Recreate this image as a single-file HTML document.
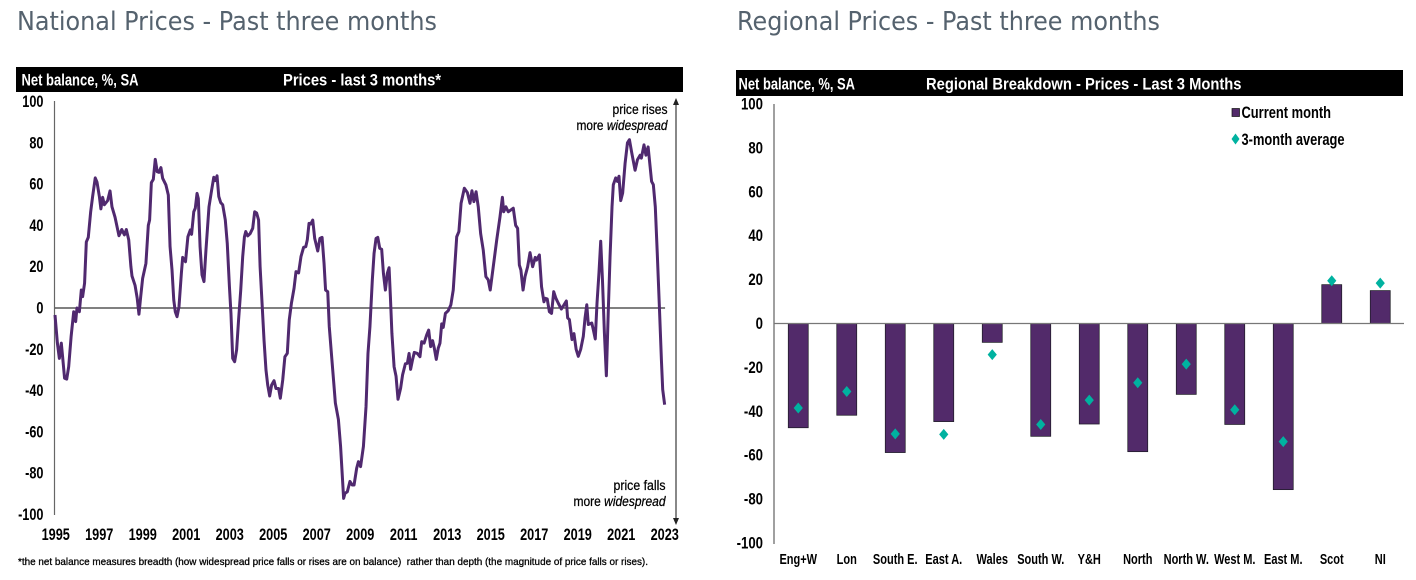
<!DOCTYPE html>
<html lang="en">
<head>
<meta charset="utf-8">
<title>National and Regional Prices</title>
<style>
html,body{margin:0;padding:0;background:#fff;width:1416px;height:580px;overflow:hidden}
svg{display:block}
text{font-family:"Liberation Sans",Arial,sans-serif}
.title{font-family:"DejaVu Sans","Liberation Sans",sans-serif;font-size:26px;fill:#55626e;font-weight:normal}
.band{font-size:17px;font-weight:bold;fill:#fff}
.tick{font-size:16.5px;font-weight:bold;fill:#000}
.note{font-size:13.5px;fill:#000;stroke:#000;stroke-width:.25}
.cat{font-size:14.5px;font-weight:bold;fill:#000}
.legend{font-size:16.5px;font-weight:bold;fill:#000}
</style>
</head>
<body>
<svg id="page" width="1416" height="580" viewBox="0 0 1416 580" xmlns="http://www.w3.org/2000/svg">
  <rect x="0" y="0" width="1416" height="580" fill="#fff"/>

  <text class="title" x="17" y="30" textLength="420" lengthAdjust="spacingAndGlyphs">National Prices - Past three months</text>
  <text class="title" x="737" y="30" textLength="423" lengthAdjust="spacingAndGlyphs">Regional Prices - Past three months</text>

  <g id="left-chart">
    <rect x="16" y="67" width="667" height="25" fill="#000"/>
    <text class="band" x="21.5" y="85.5" textLength="117" lengthAdjust="spacingAndGlyphs">Net balance, %, SA</text>
    <text class="band" x="283" y="85.5" textLength="158" lengthAdjust="spacingAndGlyphs">Prices - last 3 months*</text>
    <line x1="54.5" y1="101" x2="54.5" y2="515" stroke="#666" stroke-width="1.2"/>
    <line x1="676" y1="102" x2="676" y2="520" stroke="#555" stroke-width="1.4"/>
    <polygon points="676,98 673,105 679,105" fill="#222"/>
    <polygon points="676,525 673,518 679,518" fill="#222"/>
    <text class="note" x="667.5" y="114" text-anchor="end" textLength="55" lengthAdjust="spacingAndGlyphs">price rises</text>
    <text class="note" x="667.5" y="130" text-anchor="end" textLength="91" lengthAdjust="spacingAndGlyphs">more <tspan font-style="italic">widespread</tspan></text>
    <text class="note" x="665.5" y="490" text-anchor="end" textLength="52" lengthAdjust="spacingAndGlyphs">price falls</text>
    <text class="note" x="665.5" y="506" text-anchor="end" textLength="92" lengthAdjust="spacingAndGlyphs">more <tspan font-style="italic">widespread</tspan></text>
    <text x="18" y="565" font-size="10.5" fill="#000" stroke="#000" stroke-width=".3" textLength="630" lengthAdjust="spacingAndGlyphs" xml:space="preserve">*the net balance measures breadth (how widespread price falls or rises are on balance)  rather than depth (the magnitude of price falls or rises).</text>
  </g>

  <g id="right-chart">
    <rect x="736" y="70" width="667" height="26" fill="#000"/>
    <text class="band" x="738.5" y="89.5" textLength="116.5" lengthAdjust="spacingAndGlyphs">Net balance, %, SA</text>
    <text class="band" x="926" y="89.5" textLength="315.5" lengthAdjust="spacingAndGlyphs">Regional Breakdown - Prices - Last 3 Months</text>
    <line x1="774" y1="104" x2="774" y2="544" stroke="#888" stroke-width="1.6"/>
    <g>
      <rect x="1232" y="108.5" width="7.5" height="8" fill="#522a6a" stroke="#111" stroke-width=".7"/>
      <text class="legend" x="1241.5" y="118" textLength="89.5" lengthAdjust="spacingAndGlyphs">Current month</text>
    </g>
    <g>
      <polygon points="1235.5,133.5 1239.5,139 1235.5,144.5 1231.5,139" fill="#00b2a0"/>
      <text class="legend" x="1241.5" y="145" textLength="103" lengthAdjust="spacingAndGlyphs">3-month average</text>
    </g>
  </g>
</svg>

<script>
/* National chart data */
const lineYears = [1995,1995.11,1995.2,1995.29,1995.35,1995.44,1995.54,1995.63,1995.74,1995.86,1995.95,1996.01,1996.12,1996.21,1996.27,1996.36,1996.44,1996.53,1996.64,1996.73,1996.85,1996.93,1997.04,1997.11,1997.19,1997.27,1997.42,1997.53,1997.62,1997.76,1997.94,1998.07,1998.19,1998.28,1998.39,1998.49,1998.54,1998.68,1998.78,1998.86,1998.94,1999.03,1999.18,1999.29,1999.35,1999.43,1999.52,1999.61,1999.7,1999.78,1999.87,1999.95,2000.1,2000.21,2000.29,2000.38,2000.46,2000.53,2000.61,2000.7,2000.81,2000.87,2001,2001.11,2001.22,2001.28,2001.38,2001.45,2001.53,2001.59,2001.67,2001.7,2001.76,2001.85,2001.94,2002.08,2002.2,2002.3,2002.37,2002.45,2002.53,2002.62,2002.71,2002.83,2002.92,2003.02,2003.09,2003.17,2003.26,2003.35,2003.44,2003.54,2003.63,2003.71,2003.77,2003.86,2003.97,2004.09,2004.18,2004.27,2004.36,2004.43,2004.52,2004.61,2004.7,2004.78,2004.87,2004.96,2005.07,2005.16,2005.28,2005.36,2005.47,2005.57,2005.68,2005.77,2005.87,2005.99,2006.08,2006.2,2006.31,2006.43,2006.53,2006.6,2006.68,2006.76,2006.85,2006.94,2007.08,2007.18,2007.28,2007.37,2007.44,2007.54,2007.61,2007.72,2007.83,2007.89,2008.03,2008.13,2008.27,2008.33,2008.44,2008.56,2008.66,2008.75,2008.87,2008.95,2009.05,2009.18,2009.3,2009.39,2009.48,2009.59,2009.67,2009.76,2009.84,2009.93,2010.02,2010.1,2010.19,2010.28,2010.36,2010.42,2010.49,2010.59,2010.68,2010.77,2010.89,2010.98,2011.11,2011.2,2011.28,2011.35,2011.44,2011.52,2011.66,2011.78,2011.86,2011.97,2012.09,2012.18,2012.27,2012.36,2012.44,2012.53,2012.62,2012.7,2012.78,2012.85,2012.95,2013.08,2013.2,2013.31,2013.39,2013.47,2013.57,2013.67,2013.82,2013.96,2014.08,2014.17,2014.26,2014.36,2014.46,2014.57,2014.69,2014.81,2014.92,2015.01,2015.15,2015.31,2015.46,2015.57,2015.63,2015.73,2015.84,2015.96,2016.07,2016.18,2016.27,2016.35,2016.42,2016.52,2016.61,2016.73,2016.84,2016.96,2017.08,2017.14,2017.27,2017.37,2017.48,2017.54,2017.63,2017.73,2017.83,2017.93,2018.03,2018.14,2018.28,2018.4,2018.51,2018.57,2018.65,2018.77,2018.86,2018.96,2019.06,2019.17,2019.29,2019.37,2019.45,2019.52,2019.68,2019.75,2019.84,2019.92,2020.01,2020.09,2020.17,2020.26,2020.35,2020.44,2020.52,2020.61,2020.67,2020.78,2020.86,2020.93,2021.01,2021.1,2021.21,2021.32,2021.41,2021.52,2021.67,2021.78,2021.9,2021.96,2022.08,2022.17,2022.27,2022.36,2022.43,2022.51,2022.6,2022.69,2022.79,2022.88,2022.94,2023.03];
const lineValues = [-3.4,-17,-24.4,-17,-23.6,-34,-34.4,-28.4,-13.9,-1.8,-6.6,0,-1.8,8.7,5.5,12,32,34.2,46.6,54,63,61,54,48,53.6,50,52,56.7,49,44,35,38,35.4,38,33,20,15.5,11,4.7,-3,5.5,14.4,21.6,40,42.6,60.7,62.3,72,66,65.7,68,62.8,59.6,54.7,29.7,18.4,3.9,-1.8,-4.2,0.6,16.8,24.5,22.4,34.5,37.8,35.7,46.6,48.3,55.5,53,29.7,24.9,16,12.8,28,49,57,63.3,61.7,64,54,51,50,42.6,31.3,10.3,-2.6,-24.4,-26,-20.3,-5.8,8.7,24.9,34.5,37,34.9,36,38.6,46.6,46,42.6,20,2.3,-15.5,-30,-37.3,-42.6,-37.3,-35.2,-39,-39,-43.7,-34.9,-23.6,-22,-5.8,2.3,9.5,17.6,17,24.9,29.4,29.7,33,41,40.7,42.6,33.7,27.6,33.7,34.2,21.6,8.7,7.9,-9,-23.6,-38,-46,-54,-67,-92.2,-89.8,-89,-84,-85.7,-85.7,-77.6,-74.4,-76.8,-67,-47.8,-22,-9,13.6,26.5,33.7,34.2,28.9,28.4,16.8,8.7,16.8,19.5,5.5,-12.3,-28.4,-33,-44.2,-38.9,-32.4,-27,-26.8,-22,-29.7,-25,-21.5,-22,-23.6,-16.3,-17,-13,-10.7,-18.7,-15.8,-19.5,-24.9,-19.5,-17,-7.7,-9.4,-2.6,-1.3,1.5,8.7,21.6,34.5,37,50.7,58,55.9,50.7,56.8,51.5,56.3,49,36,28,15.2,13.6,8.7,20,33,44.2,53.6,46.6,49,46.6,47.5,48.3,40,38.6,20.8,18.4,8.7,15.2,20,26.8,20,24.5,23.2,25.7,10.3,3,4.7,4.4,-1.8,-2.6,7.9,4.7,2.3,-0.5,1.5,3.4,-4.8,-5.6,-15.3,-12.4,-20,-23.4,-20,-13.7,-4.8,1.6,-8,-7.3,-10.5,-15,2.4,17,32.3,13.7,-12,-32.8,-0.8,25,49,59.7,63,61.3,63.8,52,55.7,70,80,81.5,75,66.7,71.8,74,72.6,79,74,78,68.6,61.3,59.7,49,26.6,0,-25,-39.5,-46.8];
const lineYearTicks = ['1995','1997','1999','2001','2003','2005','2007','2009','2011','2013','2015','2017','2019','2021','2023'];
const lineValueTicks = ['100','80','60','40','20','0','-20','-40','-60','-80','-100'];

/* Regional chart data */
const regionNames = ['Eng+W','Lon','South E.','East A.','Wales','South W.','Y&H','North','North W.','West M.','East M.','Scot','NI'];
const currentMonth = [-47.5,-41.8,-58.8,-44.7,-8.6,-51.4,-45.8,-58.4,-32.3,-46,-75.7,17.7,15];
const threeMonthAverage = [-38.5,-31,-50.3,-50.5,-14.2,-46,-34.9,-27,-18.5,-39.3,-53.8,19.5,18.4];
const regionValueTicks = ['100','80','60','40','20','0','-20','-40','-60','-80','-100'];

const SVG_NS = 'http://www.w3.org/2000/svg';
const leftChart = document.getElementById('left-chart');
const rightChart = document.getElementById('right-chart');

function lineX(year) { return 55 + (year - 1995) * 21.75; }
function lineY(value) { return 308 - value * 2.065; }
function regionX(index) { return 774 + (index + 0.5) * 48.5; }
function regionY(value) { return 323.5 - value * 2.195; }

function makeText(parent, cls, text, x, y, anchor, squeeze) {
  const el = document.createElementNS(SVG_NS, 'text');
  el.setAttribute('class', cls);
  el.setAttribute('text-anchor', anchor);
  el.setAttribute('transform', 'translate(' + x + ',' + y + ') scale(' + squeeze + ',1)');
  el.textContent = text;
  parent.appendChild(el);
  return el;
}

/* National chart marks */
const zeroLine = document.createElementNS(SVG_NS, 'line');
zeroLine.setAttribute('x1', lineX(1995));
zeroLine.setAttribute('x2', lineX(2023.05));
zeroLine.setAttribute('y1', lineY(0));
zeroLine.setAttribute('y2', lineY(0));
zeroLine.setAttribute('stroke', '#000');
zeroLine.setAttribute('stroke-width', '1');


leftChart.appendChild(zeroLine);

const priceLine = document.createElementNS(SVG_NS, 'polyline');
priceLine.setAttribute('points', lineYears.map(function (year, i) {
  return lineX(year).toFixed(2) + ',' + lineY(lineValues[i]).toFixed(2);
}).join(' '));
priceLine.setAttribute('fill', 'none');
priceLine.setAttribute('stroke', '#50296f');
priceLine.setAttribute('stroke-width', '3');
priceLine.setAttribute('stroke-linejoin', 'round');


leftChart.appendChild(priceLine);

lineValueTicks.forEach(function (label) {
  const el = makeText(leftChart, 'tick', label, 43.5, lineY(Number(label)) + 5.5, 'end', 0.77);
  
  
});

lineYearTicks.forEach(function (label) {
  const el = makeText(leftChart, 'tick', label, lineX(Number(label)) + 0.7, 540, 'middle', 0.77);
  
  
});

/* Regional chart marks */
regionValueTicks.forEach(function (label) {
  const el = makeText(rightChart, 'tick', label, 763, regionY(Number(label)) + 5.5, 'end', 0.8);
  
  
});

currentMonth.forEach(function (value, i) {
  const bar = document.createElementNS(SVG_NS, 'rect');
  bar.setAttribute('x', regionX(i) - 10);
  bar.setAttribute('width', 20);
  bar.setAttribute('y', Math.min(regionY(value), regionY(0)));
  bar.setAttribute('height', Math.abs(regionY(value) - regionY(0)));
  bar.setAttribute('fill', '#522a6a');
  bar.setAttribute('stroke', '#1a1a22');
  bar.setAttribute('stroke-width', '.7');
  
  
  rightChart.appendChild(bar);
});

const regionZero = document.createElementNS(SVG_NS, 'line');
regionZero.setAttribute('x1', 774);
regionZero.setAttribute('x2', 1404);
regionZero.setAttribute('y1', regionY(0));
regionZero.setAttribute('y2', regionY(0));
regionZero.setAttribute('stroke', '#777');
regionZero.setAttribute('stroke-width', '1.3');


rightChart.appendChild(regionZero);

threeMonthAverage.forEach(function (value, i) {
  const cx = regionX(i);
  const cy = regionY(value);
  const dot = document.createElementNS(SVG_NS, 'polygon');
  dot.setAttribute('points', [cx, cy - 5.5, cx + 4.6, cy, cx, cy + 5.5, cx - 4.6, cy].join(' '));
  dot.setAttribute('fill', '#00b2a0');
  
  
  rightChart.appendChild(dot);
});

regionNames.forEach(function (label, i) {
  const el = makeText(rightChart, 'cat', label, regionX(i), 564, 'middle', 0.76);
  
  
});
</script>
</body>
</html>
